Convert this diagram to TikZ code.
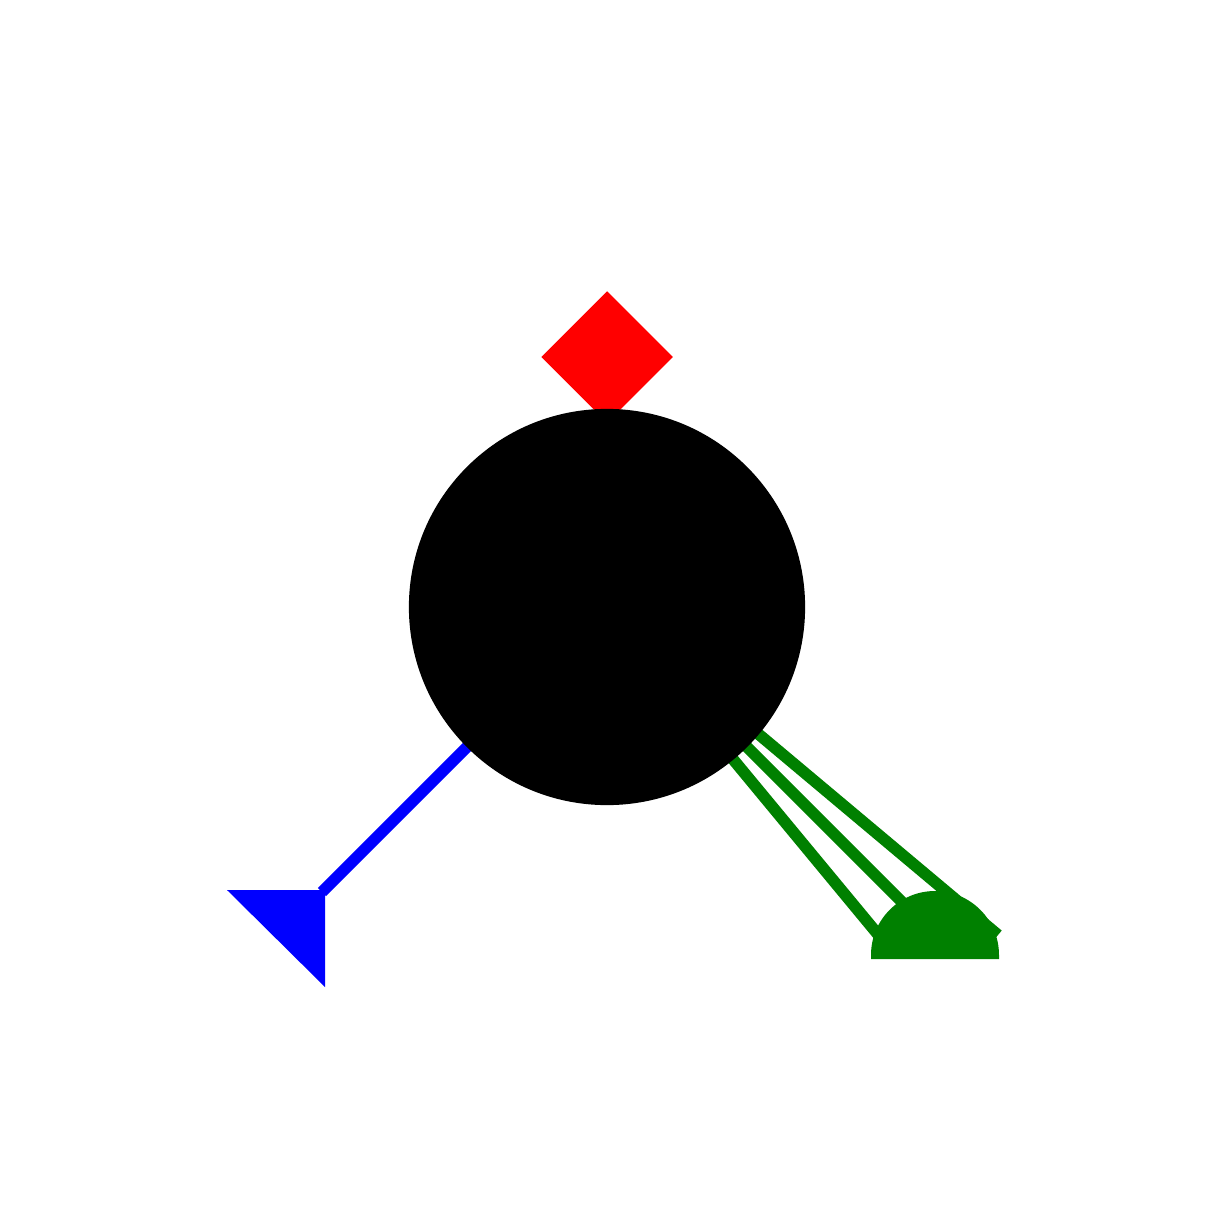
\documentclass[tikz,border=0pt]{standalone}
\usetikzlibrary{shapes.geometric}

\definecolor{tipgreen}{RGB}{0,128,0}

\begin{document}
\begin{tikzpicture}[
    x=0.01cm, y=-0.01cm,
    hubnode/.style={circle, fill=black, inner sep=0pt, minimum size=3.96cm},
    tipnode/.style={diamond, fill=red, inner sep=0pt, minimum width=1.32cm, minimum height=1.32cm},
    bline/.style={draw=blue, line width=3.3pt},
    gline/.style={draw=tipgreen, line width=3.3pt},
]
\useasboundingbox (0,0) rectangle (1215,1215);

% end points
\coordinate (bend) at (322,892);
\coordinate (gend1) at (895,955);
\coordinate (gend2) at (935,935);
\coordinate (gend3) at (998,935);

% top tip
\node[tipnode] (rtip) at (607,357) {};

% green bundle, under the hub
\draw[gline] (607,607) -- (gend1);
\draw[gline] (607,607) -- (gend2);
\draw[gline] (607,607) -- (gend3);
\fill[tipgreen] (871,959) -- (871,955) arc[start angle=180, end angle=360, radius=64] -- (999,959) -- cycle;

% blue lead
\draw[bline] (607,607) -- (bend);
\fill[blue] (227,890) -- (325,890) -- (325,987) -- cycle;

% hub
\node[hubnode] (hub) at (607,607) {};
\end{tikzpicture}
\end{document}
